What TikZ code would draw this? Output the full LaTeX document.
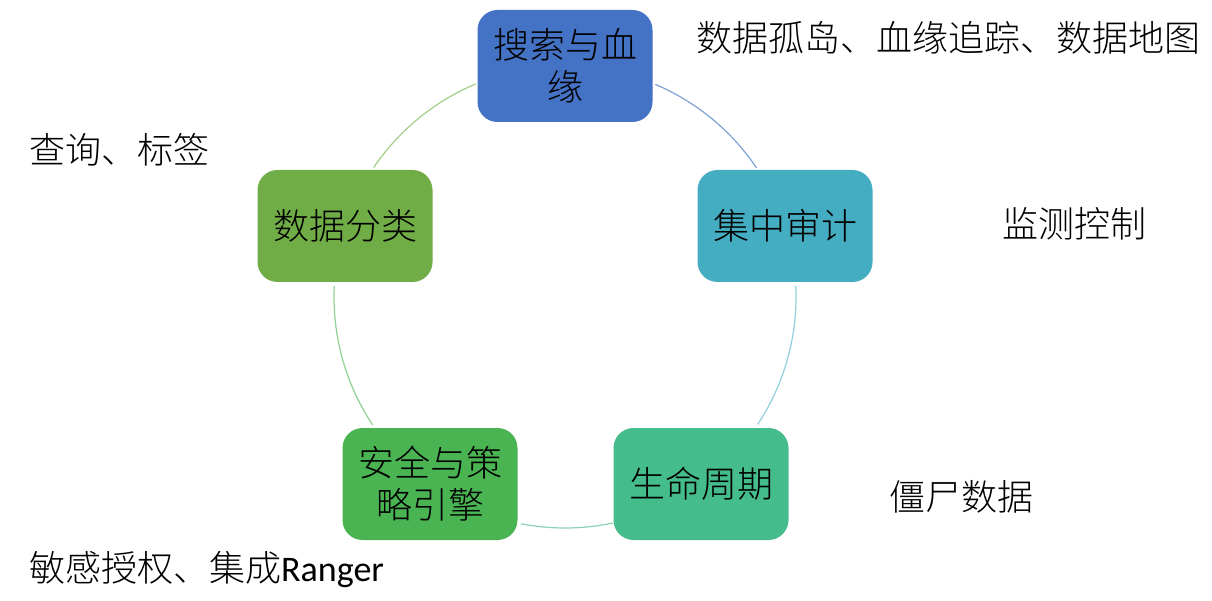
\documentclass[tikz,border=0pt]{standalone}
\usepackage{fontspec}
\usetikzlibrary{calc}
\setmainfont{Noto Sans CJK SC}[UprightFont={* Light}]
\newfontfamily\latinfont{Carlito}
\definecolor{cBlue}{HTML}{4472C4}
\definecolor{cTeal}{HTML}{44ADC2}
\definecolor{cSea}{HTML}{45BC8C}
\definecolor{cGreen}{HTML}{4AB352}
\definecolor{cLeaf}{HTML}{70AD47}
\definecolor{aOne}{HTML}{7FA3D4}
\definecolor{aTwo}{HTML}{92D0DE}
\definecolor{aThree}{HTML}{8CD3B4}
\definecolor{aFour}{HTML}{90D195}
\definecolor{aFive}{HTML}{A2CE86}
\begin{document}
\begin{tikzpicture}[x=1pt,y=-1pt,
  stage/.style={rounded corners=20pt, minimum width=175pt, minimum height=112pt,
    align=center, inner sep=0pt, font=\fontsize{36}{42}\selectfont, text=black},
  note/.style={font=\fontsize{36}{42}\selectfont, anchor=west, inner sep=0pt, text=black},
  link/.style={line width=1.2pt}]
  \useasboundingbox (0,0) rectangle (1212,601);
  \fill[white] (0,0) rectangle (1212,601);

  % centre of the cycle
  \coordinate (c) at (565,297);

  % the five stages
  \node[stage, fill=cBlue]  (search)  at (565,66)  {搜索与血\\缘};
  \node[stage, fill=cTeal]  (audit)   at (785,226) {集中审计};
  \node[stage, fill=cSea]   (life)    at (701,484) {生命周期};
  \node[stage, fill=cGreen] (policy)  at (430,484) {安全与策\\略引擎};
  \node[stage, fill=cLeaf]  (classify) at (345,226) {数据分类};

  % arcs of the cycle between the stages
  \draw[link, aOne]   ($(c)+(-67:231)$)  arc[start angle=-67,  end angle=-34,  radius=231];
  \draw[link, aTwo]   ($(c)+(-2.7:231)$) arc[start angle=-2.7, end angle=33.5, radius=231];
  \draw[link, aThree] ($(c)+(78:231)$)   arc[start angle=78,   end angle=101,  radius=231];
  \draw[link, aFour]  ($(c)+(146.3:231)$) arc[start angle=146.3, end angle=182.7, radius=231];
  \draw[link, aFive]  ($(c)+(-145.9:231)$) arc[start angle=-145.9, end angle=-112.7, radius=231];

  % notes beside the stages
  \node[note] (nSearch)   at (696,38)  {数据孤岛、血缘追踪、数据地图};
  \node[note] (nClassify) at (29,150)  {查询、标签};
  \node[note] (nAudit)    at (1002,224) {监测控制};
  \node[note] (nLife)     at (889,497) {僵尸数据};
  \node[note] (nPolicy)   at (29,570)  {敏感授权、集成{\latinfont Ranger}};
\end{tikzpicture}
\end{document}
